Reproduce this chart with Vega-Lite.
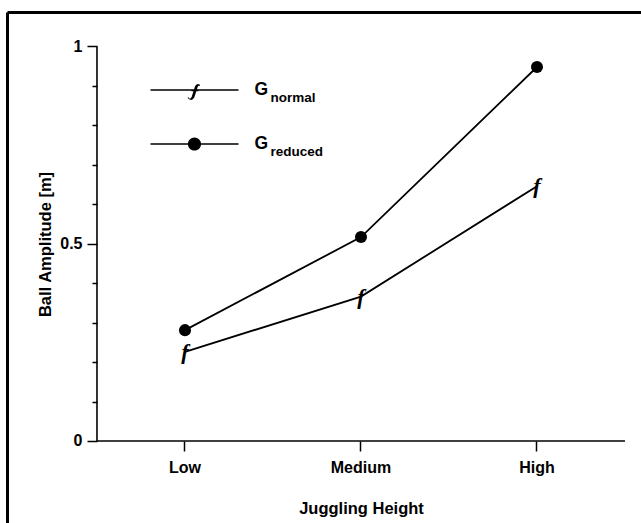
{
  "$schema": "https://vega.github.io/schema/vega-lite/v6.json",
  "width": 634,
  "height": 511,
  "autosize": {"type": "none"},
  "padding": {"left": 7, "top": 12, "right": 0, "bottom": 0},
  "background": "white",
  "config": {
    "view": {"stroke": null},
    "font": "Liberation Sans",
    "axis": {
      "labelFont": "Liberation Sans",
      "labelFontWeight": "bold",
      "labelFontSize": 16,
      "labelColor": "black",
      "titleFont": "Liberation Sans",
      "titleFontWeight": "bold",
      "titleFontSize": 16.5,
      "titleColor": "black",
      "domainColor": "black",
      "domainWidth": 1.6,
      "tickColor": "black",
      "tickWidth": 1.5,
      "grid": false
    }
  },
  "data": {
    "values": [
      {"height": "Low", "group": "G_normal", "sub": "normal", "amplitude": 0.226},
      {"height": "Medium", "group": "G_normal", "sub": "normal", "amplitude": 0.366},
      {"height": "High", "group": "G_normal", "sub": "normal", "amplitude": 0.646},
      {"height": "Low", "group": "G_reduced", "sub": "reduced", "amplitude": 0.281},
      {"height": "Medium", "group": "G_reduced", "sub": "reduced", "amplitude": 0.517},
      {"height": "High", "group": "G_reduced", "sub": "reduced", "amplitude": 0.948}
    ]
  },
  "resolve": {"axis": {"x": "independent", "y": "independent"}},
  "layer": [
    {
      "mark": {"type": "line", "color": "black", "strokeWidth": 1.8},
      "encoding": {
        "x": {
          "field": "height", "type": "nominal", "bandPosition": 0.5,
          "scale": {"type": "band", "domain": ["Low", "Medium", "High"], "paddingInner": 0, "paddingOuter": 0.3011, "align": 0.849},
          "axis": {
            "orient": "bottom", "offset": -82, "title": "Juggling Height", "domain": false,
            "labelAngle": 0, "tickSize": 10, "labelPadding": 8,
            "titleX": 354, "titleY": 59, "titleBaseline": "top", "titleAlign": "center"
          }
        },
        "y": {
          "field": "amplitude", "type": "quantitative",
          "scale": {"domain": [-0.20786, 1.08745], "nice": false, "zero": false},
          "axis": {
            "orient": "left", "offset": -90, "title": "Ball Amplitude [m]", "domain": false,
            "values": [0, 0.5, 1],
            "format": "~g", "tickSize": 10, "labelPadding": 5,
            "titleX": -44, "titleY": 232, "titleAngle": 270, "titleBaseline": "bottom", "titleAlign": "center"
          }
        },
        "detail": {"field": "group"}
      }
    },
    {
      "mark": {"type": "point", "filled": true, "opacity": 0},
      "encoding": {
        "x": {"field": "height", "type": "nominal", "bandPosition": 0.5,
          "axis": {"orient": "top", "offset": 0, "title": null, "labels": false, "ticks": false, "domainWidth": 3}},
        "y": {"field": "amplitude", "type": "quantitative",
          "axis": {"orient": "left", "offset": 0, "title": null, "labels": false, "ticks": false, "domainWidth": 3}},
        "shape": {
          "field": "group", "type": "nominal",
          "scale": {
            "domain": ["G_normal", "G_reduced"],
            "range": [
              "M-1,-0.018H1V0.018H-1ZM-0.15,0.15Q-0.11,0.24 -0.065,0.16L0.01,-0.08Q0.045,-0.165 0.12,-0.125L0.12,-0.085Q0.085,-0.115 0.07,-0.065L-0.005,0.17Q-0.06,0.27 -0.15,0.19ZM-0.07,-0.015H0.09V0.028H-0.07Z",
              "M-1,-0.018H1V0.018H-1ZM0.15,0C0.15,0.0828 0.0828,0.15 0,0.15C-0.0828,0.15 -0.15,0.0828 -0.15,0C-0.15,-0.0828 -0.0828,-0.15 0,-0.15C0.0828,-0.15 0.15,-0.0828 0.15,0Z"
            ]
          },
          "legend": {
            "orient": "none", "legendX": 143.5, "legendY": 34, "title": null,
            "labelExpr": "'G'", "symbolSize": 7744, "symbolStrokeWidth": 0,
            "symbolFillColor": "black", "symbolStrokeColor": "black", "symbolOpacity": 1,
            "labelFont": "Liberation Sans", "labelFontWeight": "bold", "labelFontSize": 17.5, "labelColor": "black",
            "labelOffset": 16, "rowPadding": -2, "padding": 0
          }
        },
        "color": {
          "field": "sub", "type": "nominal",
          "scale": {"range": ["black", "black"]},
          "legend": {
            "orient": "none", "legendX": 250, "legendY": 79, "title": null,
            "symbolSize": 1, "symbolOpacity": 0, "labelOffset": 0,
            "labelFont": "Liberation Sans", "labelFontWeight": "bold", "labelFontSize": 13.5, "labelColor": "black",
            "rowPadding": 39, "padding": 0
          }
        }
      }
    },
    {
      "mark": {"type": "point", "opacity": 0},
      "encoding": {
        "x": {"field": "height", "type": "nominal", "bandPosition": 0.5, "axis": null},
        "y": {"field": "amplitude", "type": "quantitative",
          "axis": {"orient": "left", "offset": -90, "title": null, "labels": false, "domain": false,
            "values": [0.1, 0.2, 0.3, 0.4, 0.6, 0.7, 0.8, 0.9], "tickSize": 5}}
      }
    },
    {
      "data": {"values": [{}]},
      "mark": {"type": "rule", "color": "black", "strokeWidth": 1.6},
      "encoding": {
        "x": {"datum": "Low", "type": "nominal", "bandPosition": 0, "axis": null},
        "y": {"datum": 0, "type": "quantitative", "axis": null},
        "y2": {"datum": 1}
      }
    },
    {
      "data": {"values": [{}]},
      "mark": {"type": "rule", "color": "black", "strokeWidth": 1.6},
      "encoding": {
        "x": {"datum": "Low", "type": "nominal", "bandPosition": 0, "axis": null},
        "x2": {"datum": "High", "bandPosition": 1},
        "y": {"datum": 0, "type": "quantitative", "axis": null}
      }
    },
    {
      "transform": [{"filter": "datum.group === 'G_reduced'"}],
      "mark": {"type": "point", "filled": true, "color": "black", "size": 145, "opacity": 1},
      "encoding": {
        "x": {"field": "height", "type": "nominal", "bandPosition": 0.5, "axis": null},
        "y": {"field": "amplitude", "type": "quantitative", "axis": null}
      }
    },
    {
      "transform": [{"filter": "datum.group === 'G_normal'"}],
      "mark": {"type": "text", "text": "f", "font": "Liberation Serif", "fontStyle": "italic", "fontWeight": "bold", "fontSize": 22, "color": "black", "baseline": "middle", "align": "center"},
      "encoding": {
        "x": {"field": "height", "type": "nominal", "bandPosition": 0.5, "axis": null},
        "y": {"field": "amplitude", "type": "quantitative", "axis": null}
      }
    }
  ]
}
